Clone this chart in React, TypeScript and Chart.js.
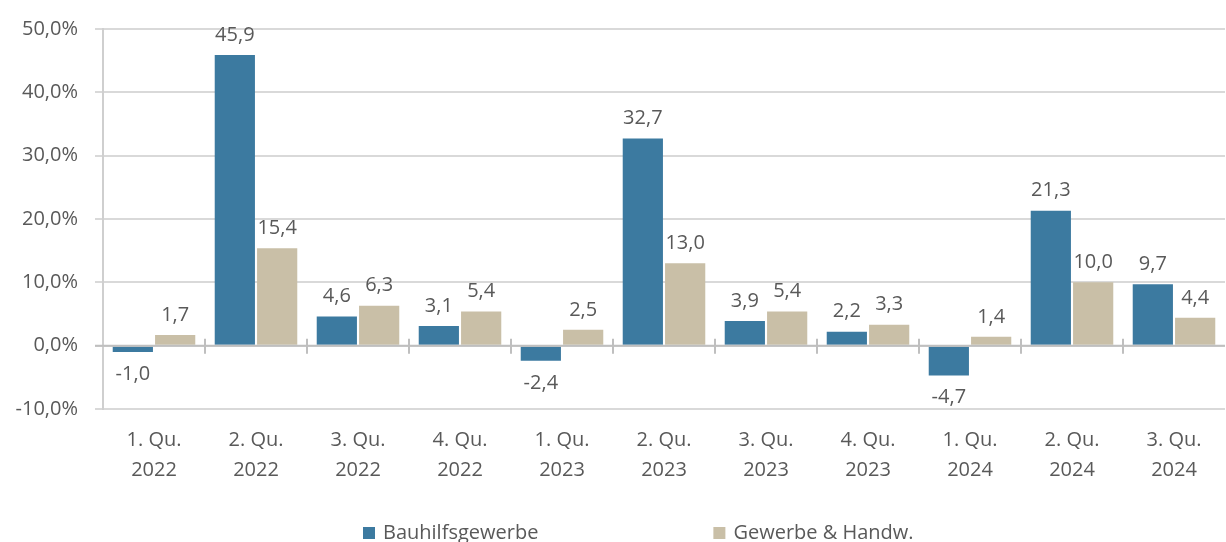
import React, { useEffect, useRef } from "react";
import { Chart, registerables } from "chart.js";

Chart.register(...registerables);

const quarters = ["1. Qu.", "2. Qu.", "3. Qu.", "4. Qu.", "1. Qu.", "2. Qu.", "3. Qu.", "4. Qu.", "1. Qu.", "2. Qu.", "3. Qu."];
const years = ["2022", "2022", "2022", "2022", "2023", "2023", "2023", "2023", "2024", "2024", "2024"];
const bauhilfsgewerbe = [-1.0, 45.9, 4.6, 3.1, -2.4, 32.7, 3.9, 2.2, -4.7, 21.3, 9.7];
const gewerbeHandwerk = [1.7, 15.4, 6.3, 5.4, 2.5, 13.0, 5.4, 3.3, 1.4, 10.0, 4.4];
const seriesNames = ["Bauhilfsgewerbe", "Gewerbe & Handw."];
const yMin = -10;
const yMax = 50;
const yStep = 10;

const BLUE = "#3C7AA0";
const BEIGE = "#C9BFA7";
const TEXT = "#595959";
const GRID = "#d9d9d9";
const FONT = "'Open Sans', sans-serif";

const fmt = (v: number) => v.toFixed(1).replace(".", ",");

const valueLabels = {
  id: "valueLabels",
  afterDatasetsDraw(chart: any) {
    const ctx = chart.ctx;
    ctx.save();
    ctx.font = `20px ${FONT}`;
    ctx.fillStyle = TEXT;
    ctx.textAlign = "center";
    ctx.textBaseline = "middle";
    chart.data.datasets.forEach((ds: any, di: number) => {
      const meta = chart.getDatasetMeta(di);
      meta.data.forEach((el: any, i: number) => {
        const v = ds.data[i];
        const y = v >= 0 ? el.y - 20 : el.y + 22;
        ctx.fillText(fmt(v), el.x, y);
      });
    });
    ctx.restore();
  },
};

const zeroAxis = {
  id: "zeroAxis",
  afterDatasetsDraw(chart: any) {
    const ctx = chart.ctx;
    const x = chart.scales.x;
    const y = chart.scales.y;
    const y0 = y.getPixelForValue(0);
    const area = chart.chartArea;
    ctx.save();
    ctx.strokeStyle = "#bfbfbf";
    ctx.lineWidth = 2;
    ctx.beginPath();
    ctx.moveTo(area.left - 8, y0);
    ctx.lineTo(area.right, y0);
    const n = chart.data.labels.length;
    const w = (area.right - area.left) / n;
    for (let i = 1; i < n; i++) {
      const bx = x.getPixelForValue(i) - w / 2;
      ctx.moveTo(bx, y0 - 7);
      ctx.lineTo(bx, y0 + 8);
    }
    ctx.stroke();
    ctx.restore();
  },
};

const bottomLegend = {
  id: "bottomLegend",
  afterDraw(chart: any) {
    const ctx = chart.ctx;
    ctx.save();
    ctx.font = `20px ${FONT}`;
    ctx.textBaseline = "middle";
    ctx.textAlign = "left";
    let x = 363;
    const yc = 533;
    chart.data.datasets.forEach((ds: any) => {
      ctx.fillStyle = ds.backgroundColor;
      ctx.fillRect(x, yc - 6, 12, 12);
      ctx.fillStyle = TEXT;
      ctx.fillText(ds.label, x + 20, yc);
      x += 20 + ctx.measureText(ds.label).width + 175;
    });
    ctx.restore();
  },
};

export default function App() {
  const ref = useRef<HTMLCanvasElement | null>(null);

  useEffect(() => {
    document.body.style.margin = "0";
    document.body.style.overflow = "hidden";
    if (!ref.current) return;
    Chart.defaults.font.family = FONT;
    Chart.defaults.color = TEXT;
    const chart = new Chart(ref.current, {
      type: "bar",
      data: {
        labels: quarters.map((q, i) => [q, years[i]]),
        datasets: [
          {
            label: seriesNames[0],
            data: bauhilfsgewerbe,
            backgroundColor: BLUE,
            barPercentage: 0.95,
            categoryPercentage: 0.83,
          },
          {
            label: seriesNames[1],
            data: gewerbeHandwerk,
            backgroundColor: BEIGE,
            barPercentage: 0.95,
            categoryPercentage: 0.83,
          },
        ],
      },
      options: {
        responsive: false,
        animation: false,
        layout: { padding: { top: 24, right: 1, left: 0, bottom: 0 } },
        plugins: {
          legend: { display: false },
          tooltip: { enabled: false },
        },
        scales: {
          x: {
            grid: { display: false, drawTicks: false },
            border: { display: false },
            ticks: {
              padding: 16,
              color: TEXT,
              font: { size: 20, family: FONT, lineHeight: 1.5 },
              maxRotation: 0,
            },
            afterFit(scale: any) {
              scale.height = 133;
            },
          },
          y: {
            min: yMin,
            max: yMax,
            ticks: {
              stepSize: yStep,
              padding: 17,
              color: TEXT,
              font: { size: 20, family: FONT },
              callback: (v: any) => fmt(Number(v)) + "%",
            },
            grid: { color: GRID, lineWidth: 2, tickLength: 8, drawTicks: true },
            border: { display: true, color: "#cfcfcf", width: 2 },
            afterFit(scale: any) {
              scale.width = 103;
            },
          },
        },
      },
      plugins: [zeroAxis, valueLabels, bottomLegend],
    });
    return () => chart.destroy();
  }, []);

  return (
    <div style={{ width: 1226, height: 542 }}>
      <canvas ref={ref} width={1226} height={542} style={{ display: "block" }} />
    </div>
  );
}
